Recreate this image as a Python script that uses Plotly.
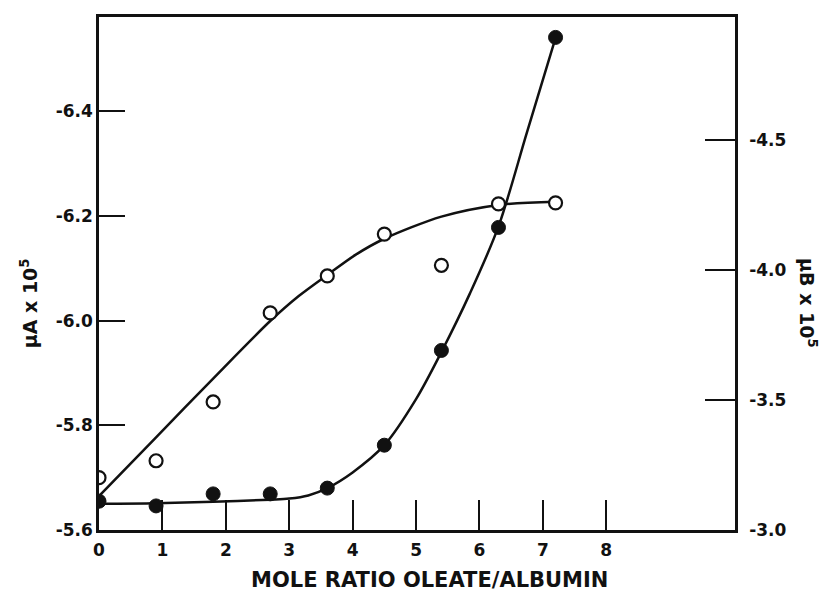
import plotly.graph_objects as go

# Measured points (x = mole ratio oleate/albumin)
ratio = [0, 0.9, 1.8, 2.7, 3.6, 4.5, 5.4, 6.3, 7.2]
mu_a_filled = [-5.655, -5.646, -5.669, -5.669, -5.680, -5.762, -5.943, -6.178, -6.541]
mu_b_open = [-3.201, -3.266, -3.492, -3.834, -3.976, -4.137, -4.017, -4.253, -4.257]

# Hand-drawn smooth curves
curve_a_x = [0, 0.9, 1.8, 2.7, 3.0, 3.3, 3.6, 4.0, 4.5, 5.0, 5.4, 5.85, 6.3, 6.75, 7.2]
curve_a_y = [-5.650, -5.651, -5.654, -5.658, -5.660, -5.666, -5.680, -5.710, -5.762,
             -5.850, -5.940, -6.052, -6.180, -6.360, -6.540]
curve_b_x = [0, 0.9, 1.8, 2.7, 3.15, 3.6, 4.05, 4.5, 5.4, 6.3, 7.2]
curve_b_y = [-3.130, -3.356, -3.582, -3.803, -3.899, -3.980, -4.058, -4.119, -4.204, -4.249, -4.261]

x_ticks = [0, 1, 2, 3, 4, 5, 6, 7, 8]
left_ticks = [-6.4, -6.2, -6.0, -5.8, -5.6]
left_labels = ["-6.4", "-6.2", "-6.0", "-5.8", "-5.6"]
right_ticks = [-4.5, -4.0, -3.5, -3.0]
right_labels = ["-4.5", "-4.0", "-3.5", "-3.0"]

FONT = "DejaVu Sans"
BLACK = "#111111"

fig = go.Figure()

fig.add_trace(go.Scatter(x=curve_a_x, y=curve_a_y, mode="lines",
                         line=dict(color=BLACK, width=2.5, shape="spline", smoothing=0.9),
                         yaxis="y", showlegend=False, hoverinfo="skip"))
fig.add_trace(go.Scatter(x=curve_b_x, y=curve_b_y, mode="lines",
                         line=dict(color=BLACK, width=2.5, shape="spline", smoothing=0.8),
                         yaxis="y2", showlegend=False, hoverinfo="skip"))
fig.add_trace(go.Scatter(x=ratio, y=mu_a_filled, mode="markers",
                         marker=dict(symbol="circle", size=14, color=BLACK,
                                     line=dict(color=BLACK, width=1)),
                         yaxis="y", showlegend=False, name="μA"))
fig.add_trace(go.Scatter(x=ratio, y=mu_b_open, mode="markers",
                         marker=dict(symbol="circle", size=13, color="white",
                                     line=dict(color=BLACK, width=2.2)),
                         yaxis="y2", showlegend=False, name="μB"))

tickfont = dict(family=FONT, size=17, color=BLACK, weight="bold")
titlefont = dict(family=FONT, size=19, color=BLACK, weight="bold")

fig.update_layout(
    width=830, height=595,
    margin=dict(l=91, r=103, t=6, b=73),
    paper_bgcolor="white", plot_bgcolor="white",
    xaxis=dict(range=[0, 10.03], tickvals=x_ticks, ticktext=[str(v) for v in x_ticks],
               ticks="inside", ticklen=30, tickwidth=2, tickcolor=BLACK,
               showline=True, linewidth=2.5, linecolor=BLACK, mirror=True,
               showgrid=False, zeroline=False, tickfont=tickfont, ticklabelstandoff=3),
    yaxis=dict(range=[-5.6, -6.580], tickvals=left_ticks, ticktext=left_labels,
               ticks="inside", ticklen=26, tickwidth=2, tickcolor=BLACK,
               showline=True, linewidth=2.5, linecolor=BLACK, mirror=True,
               showgrid=False, zeroline=False, tickfont=tickfont, ticklabelstandoff=0),
    yaxis2=dict(range=[-3.0, -4.971], tickvals=right_ticks, ticktext=right_labels,
                overlaying="y", side="right",
                ticks="inside", ticklen=30, tickwidth=2, tickcolor=BLACK,
                showline=True, linewidth=2.5, linecolor=BLACK,
                showgrid=False, zeroline=False, tickfont=tickfont, ticklabelstandoff=8),
    annotations=[
        dict(text="MOLE RATIO OLEATE/ALBUMIN", xref="paper", yref="paper",
             x=0.52, y=-0.098, showarrow=False, xanchor="center", yanchor="middle",
             font=dict(family=FONT, size=21, color=BLACK, weight="bold")),
        dict(text="μA x 10<sup>5</sup>", xref="paper", yref="paper",
             x=-0.11, y=0.442, showarrow=False, textangle=-90,
             xanchor="center", yanchor="middle", font=titlefont),
        dict(text="μB x 10<sup>5</sup>", xref="paper", yref="paper",
             x=1.115, y=0.442, showarrow=False, textangle=90,
             xanchor="center", yanchor="middle", font=titlefont),
    ],
)

fig.write_html("out.html")
